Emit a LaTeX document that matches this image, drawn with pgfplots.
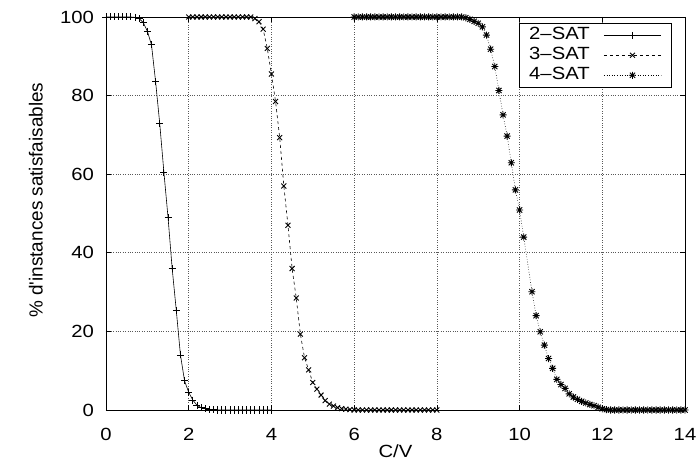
\documentclass[border=0pt]{standalone}
\usepackage{pgfplots}
\pgfplotsset{compat=1.18}
\usepackage{fontspec}
\setmainfont[FakeStretch=1.15]{Liberation Sans}
\newfontfamily\ylfont{Liberation Sans}
\pgfdeclareplotmark{gpstar}{%
  \pgfpathmoveto{\pgfqpoint{-\pgfplotmarksize}{0pt}}\pgfpathlineto{\pgfqpoint{\pgfplotmarksize}{0pt}}%
  \pgfpathmoveto{\pgfqpoint{0pt}{-\pgfplotmarksize}}\pgfpathlineto{\pgfqpoint{0pt}{\pgfplotmarksize}}%
  \pgfpathmoveto{\pgfqpoint{-0.75\pgfplotmarksize}{-0.75\pgfplotmarksize}}\pgfpathlineto{\pgfqpoint{0.75\pgfplotmarksize}{0.75\pgfplotmarksize}}%
  \pgfpathmoveto{\pgfqpoint{-0.75\pgfplotmarksize}{0.75\pgfplotmarksize}}\pgfpathlineto{\pgfqpoint{0.75\pgfplotmarksize}{-0.75\pgfplotmarksize}}%
  \pgfusepathqstroke}
\begin{document}
\fontsize{17.7}{20}\selectfont
\begin{tikzpicture}
\begin{axis}[
  scale only axis,
  width=579bp, height=393bp,
  xmin=0, xmax=14, ymin=0, ymax=100,
  xtick={0,2,...,14}, ytick={0,20,...,100},
  /pgf/number format/assume math mode=true,
  tick label style={font=\fontsize{17.7}{20}\selectfont},
  xticklabel style={yshift=-12bp},
  yticklabel style={xshift=-6bp},
  xlabel={C/V}, ylabel={\% d'instances satisfaisables},
  xlabel style={font=\fontsize{17.7}{20}\selectfont, yshift=8bp},
  ylabel style={font=\ylfont\fontsize{19}{21}\selectfont, at={(axis description cs:-0.121,0.534)}, anchor=center},
  tick align=inside, major tick length=5bp,
  tick style={black, line width=0.6pt},
  axis line style={line width=0.8pt},
  grid=major, major grid style={dotted, gray!70!black, line width=0.7pt},
  legend plot pos=right, legend cell align=right,
  legend style={at={(0.977,0.985)}, anchor=north east, font=\fontsize{17.7}{18}\selectfont,
    draw=black, line width=0.8pt, inner xsep=9bp, inner ysep=2.5bp, row sep=1bp, fill=white,
    nodes={inner sep=1bp, text height=13bp, text depth=4bp}},
  legend image code/.code={\path (0bp,0bp) (71bp,0bp); \draw[mark repeat=2,mark phase=2] plot coordinates {(13bp,0bp) (41.5bp,0bp) (70bp,0bp)};},
  every axis plot/.append style={black, line width=0.6pt, mark size=3.5bp, mark options={solid, line width=0.9pt}},
]
\coordinate (ll) at (rel axis cs:0,0);
\coordinate (ur) at (rel axis cs:1,1);
\addplot[solid, mark=+] coordinates {
(0.0,100)(0.1,100)(0.2,100)(0.3,100)(0.4,100)(0.5,100)(0.6,100)(0.7,99.9)(0.8,99.6)(0.9,98.6)
(1.0,96.4)(1.1,92.9)(1.2,83.5)(1.3,72.8)(1.4,60.5)(1.5,49)(1.6,36)(1.7,25.3)(1.8,14)(1.9,7.4)
(2.0,4.5)(2.1,2.5)(2.2,1.2)(2.3,0.6)(2.4,0.3)(2.5,0.15)(2.6,0.05)(2.7,0)(2.8,0)(2.9,0)
(3.0,0)(3.1,0)(3.2,0)(3.3,0)(3.4,0)(3.5,0)(3.6,0)(3.7,0)(3.8,0)(3.9,0)(4.0,0)
};
\addlegendentry{2--SAT}
\addplot[dashed, mark=x] coordinates {
(2.0,100)(2.1,100)(2.2,100)(2.3,100)(2.4,100)(2.5,100)(2.6,100)(2.7,100)(2.8,100)(2.9,100)
(3.0,100)(3.1,100)(3.2,100)(3.3,100)(3.4,100)(3.5,100)(3.6,99.6)(3.7,98.8)(3.8,96.9)(3.9,92)
(4.0,85.5)(4.1,78.5)(4.2,69.3)(4.3,57)(4.4,47)(4.5,36)(4.6,28.5)(4.7,19.3)(4.8,13.3)(4.9,10.2)
(5.0,7)(5.1,5.3)(5.2,3.8)(5.3,2.4)(5.4,1.5)(5.5,1.0)(5.6,0.6)(5.7,0.35)(5.8,0.2)(5.9,0.1)
(6.0,0)(6.1,0)(6.2,0)(6.3,0)(6.4,0)(6.5,0)(6.6,0)(6.7,0)(6.8,0)(6.9,0)
(7.0,0)(7.1,0)(7.2,0)(7.3,0)(7.4,0)(7.5,0)(7.6,0)(7.7,0)(7.8,0)(7.9,0)(8.0,0)
};
\addlegendentry{3--SAT}
\addplot[dotted, mark=gpstar] coordinates {
(6.0,100)(6.1,100)(6.2,100)(6.3,100)(6.4,100)(6.5,100)(6.6,100)(6.7,100)(6.8,100)(6.9,100)
(7.0,100)(7.1,100)(7.2,100)(7.3,100)(7.4,100)(7.5,100)(7.6,100)(7.7,100)(7.8,100)(7.9,100)
(8.0,100)(8.1,100)(8.2,100)(8.3,100)(8.4,100)(8.5,100)(8.6,100)(8.7,99.8)(8.8,99.4)(8.9,98.9)
(9.0,98.4)(9.1,97.5)(9.2,95.4)(9.3,91.8)(9.4,87.4)(9.5,81.3)(9.6,75.1)(9.7,69.7)(9.8,62.9)(9.9,56)
(10.0,50.9)(10.1,44)(10.3,30.1)(10.4,24)(10.5,19.9)(10.6,16.5)(10.7,13.1)(10.8,10.6)(10.9,7.8)
(11.0,6.5)(11.1,5.5)(11.2,4.1)(11.3,3.3)(11.4,2.7)(11.5,2.2)(11.6,1.8)(11.7,1.4)(11.8,1.1)(11.9,0.7)
(12.0,0.3)(12.1,0.1)(12.2,0)(12.3,0)(12.4,0)(12.5,0)(12.6,0)(12.7,0)(12.8,0)(12.9,0)
(13.0,0)(13.1,0)(13.2,0)(13.3,0)(13.4,0)(13.5,0)(13.6,0)(13.7,0)(13.8,0)(13.9,0)(14.0,0)
};
\addlegendentry{4--SAT}
\end{axis}
\pgfresetboundingbox
\path ([shift={(-106bp,-53bp)}]ll) rectangle ([shift={(11bp,17bp)}]ur);
\end{tikzpicture}
\end{document}
